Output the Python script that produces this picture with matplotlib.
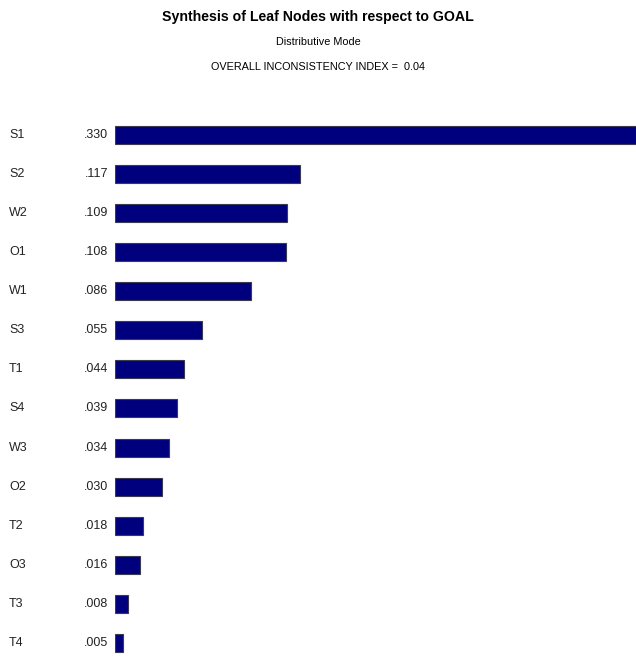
import matplotlib.pyplot as plt
from matplotlib.transforms import blended_transform_factory

# ========== DATA ==========
nodes = ['S1', 'S2', 'W2', 'O1', 'W1', 'S3', 'T1', 'S4', 'W3', 'O2', 'T2', 'O3', 'T3', 'T4']
weights = [0.330, 0.117, 0.109, 0.108, 0.086, 0.055, 0.044, 0.039, 0.034, 0.030, 0.018, 0.016, 0.008, 0.005]
title = 'Synthesis of Leaf Nodes with respect to GOAL'
subtitle = 'Distributive Mode'
index_line = 'OVERALL INCONSISTENCY INDEX =  0.04'
# ==========================

W, H = 636, 657
fig = plt.figure(figsize=(W / 100, H / 100), dpi=100)
plt.rcParams['font.family'] = ['Liberation Sans', 'DejaVu Sans']

# axes placed so the bars start at x=115px and the first row sits at y=135px
ax = fig.add_axes([115 / W, 0, 1 - 115 / W, (H - 115) / H])
ypos = list(range(len(nodes)))
ax.barh(ypos, weights, height=0.46, color='#00007f', edgecolor='#3a3a50', linewidth=0.8)
ax.set_xlim(0, 0.330)
ax.set_ylim(13.36, -0.51)
ax.axis('off')

tr = blended_transform_factory(fig.transFigure, ax.transData)
for y, name, val in zip(ypos, nodes, weights):
    ax.text(9 / W, y, name, transform=tr, ha='left', va='center',
            fontsize=9, color='#222222', clip_on=False)
    ax.text(108 / W, y, f'{val:.3f}'.lstrip('0'), transform=tr, ha='right',
            va='center', fontsize=9, color='#222222', clip_on=False)

fig.text(0.5, 1 - 17 / H, title, ha='center', va='center', fontsize=10.2, fontweight='bold')
fig.text(0.5, 1 - 42 / H, subtitle, ha='center', va='center', fontsize=7.8)
fig.text(0.5, 1 - 67 / H, index_line, ha='center', va='center', fontsize=7.8)

fig.savefig('out.png', dpi=100)
